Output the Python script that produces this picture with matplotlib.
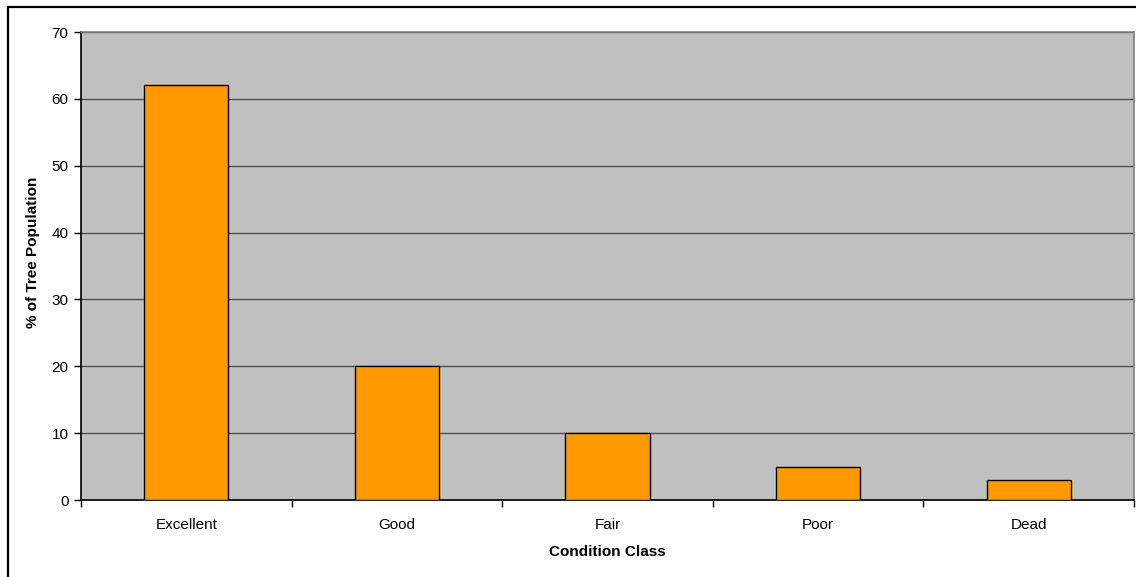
import matplotlib.pyplot as plt
import matplotlib.patches as mpatches
import numpy as np

# condition classes and share of the tree population (%)
classes = ["Excellent", "Good", "Fair", "Poor", "Dead"]
pct_trees = [62, 20, 10, 5, 3]
y_ticks = [0, 10, 20, 30, 40, 50, 60, 70]

plt.rcParams['font.family'] = ['Liberation Sans', 'DejaVu Sans']

fig = plt.figure(figsize=(11.36, 5.77), dpi=100)

# outer chart frame (runs off the right/bottom edge)
frame = mpatches.Rectangle((8 / 1136, -0.1), 1.2, 1 - 7 / 577 + 0.1,
                           transform=fig.transFigure, fill=False,
                           edgecolor='black', linewidth=1.6, zorder=0)
fig.patches.append(frame)

ax = fig.add_axes([81 / 1136, 1 - 500 / 577, (1134 - 81) / 1136, (500 - 32) / 577])
ax.set_facecolor('#C0C0C0')

x = np.arange(len(classes))
ax.bar(x, pct_trees, width=0.4, color='#FF9900', edgecolor='black',
       linewidth=1.0, zorder=3)

ax.set_xlim(-0.5, len(classes) - 0.5)
ax.set_ylim(0, 70)
ax.set_yticks(y_ticks)
ax.set_yticklabels([str(v) for v in y_ticks], fontsize=11)
ax.yaxis.grid(True, color='#505050', linewidth=1.0, zorder=1)
ax.set_axisbelow(True)

# category labels centred, tick marks between categories
ax.set_xticks(x)
ax.set_xticklabels(classes, fontsize=11)
ax.tick_params(axis='x', length=0, pad=13)
ax.set_xticks(np.arange(-0.5, len(classes)), minor=True)
ax.tick_params(axis='x', which='minor', length=5, direction='out', width=1)
ax.tick_params(axis='y', length=5, direction='out', width=1, pad=4)

for side in ['top', 'right']:
    ax.spines[side].set_color('#808080')
    ax.spines[side].set_linewidth(1.2)
for side in ['left', 'bottom']:
    ax.spines[side].set_color('black')
    ax.spines[side].set_linewidth(1.2)

ax.set_ylabel("% of Tree Population", fontsize=11, fontweight='bold', va='center')
ax.yaxis.set_label_coords(-0.0456, 0.53)
ax.set_xlabel("Condition Class", fontsize=11, fontweight='bold', va='center')
ax.xaxis.set_label_coords(0.5, -0.111)

fig.savefig("out.png", dpi=100)
